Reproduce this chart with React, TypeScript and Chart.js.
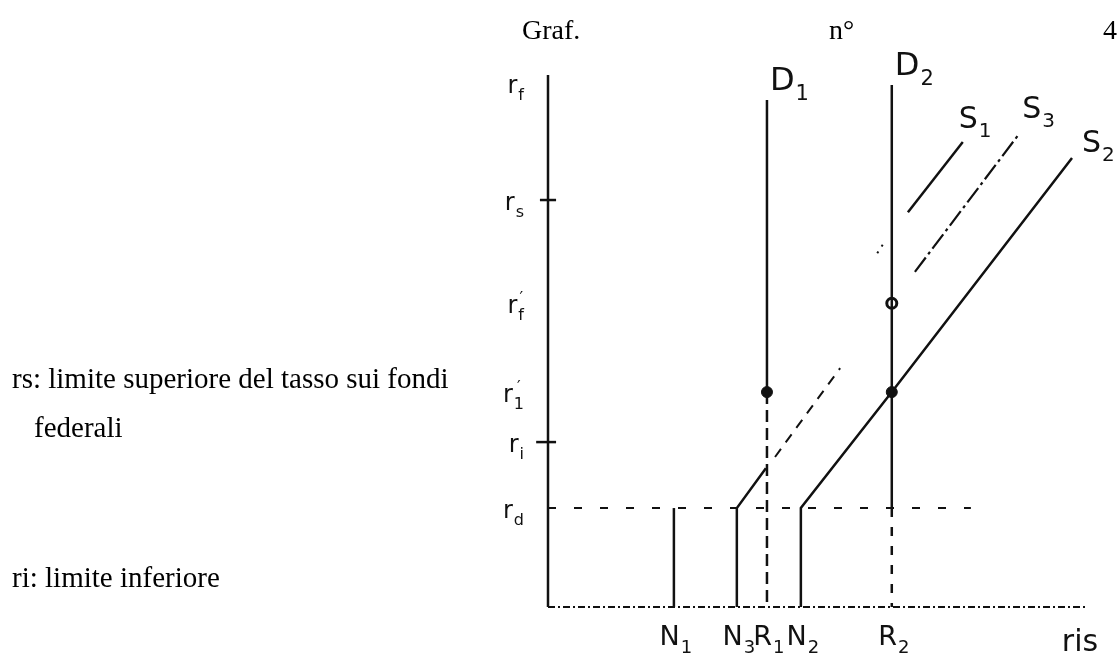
import React, { useEffect, useRef } from 'react';
import { Chart, registerables } from 'chart.js';

Chart.register(...registerables);

// ---------- data (chart units: reserves on x, federal funds rate on y) ----------
const X_MAX = 100;
const Y_MAX = 100;

// positions on the reserves axis
const N1 = 23.4;
const N3 = 35.1;
const R1 = 40.7;
const N2 = 47.0;
const R2 = 63.9;

// rate levels
const RD = 18.6; // discount rate
const RI = 31.0; // lower limit
const R1P = 40.4; // r1'
const RFP = 57.1; // rf'
const RS = 76.5; // upper limit

const D1_TOP = 95.3;
const D2_TOP = 98.1;
const RD_LINE_END = 78.6;

// supply curves (visible pieces)
const s1Vertical = [[N1, 0], [N1, RD]];
const s1Dotted = [[61.2, 66.5], [62.8, 69.0]];
const s1Upper = [[66.9, 74.2], [77.1, 87.4]];
const s3Lower = [[N3, 0], [N3, RD], [40.5, 26.1]];
const s3Dashed = [[42.2, 28.2], [54.3, 44.9]];
const s3Upper = [[68.2, 63.0], [87.4, 88.7]];
const s2Curve = [[N2, 0], [N2, RD], [R2, R1P], [97.4, 84.4]];

// equilibrium points
const filledPoints = [[R1, R1P], [R2, R1P]];
const openPoints = [[R2, RFP]];

// tick labels
const xTickValues = [N1, N3, R1, N2, R2];
const xTickMain = ['N', 'N', 'R', 'N', 'R'];
const xTickSub = ['1', '3', '1', '2', '2'];
const xAxisTitle = 'ris';

const yTickValues = [Y_MAX, RS, RFP, R1P, RI, RD];
const yTickSub = ['f', 's', 'f', '1', 'i', 'd'];
const yTickPrime = [false, false, true, true, false, false];

const demandNames = ['D', 'D'];
const demandSubs = ['1', '2'];
const supplySubs = ['1', '3', '2'];

const INK = '#111111';
const HAND_FONT = '"DejaVu Sans", sans-serif';

type P = number[];
const toXY = (pts: P[]) => pts.map(([x, y]) => ({ x, y }));

function seg(pts: P[], extra: any = {}) {
  return {
    data: toXY(pts),
    showLine: true,
    borderColor: INK,
    backgroundColor: INK,
    borderWidth: 2.5,
    pointRadius: 0,
    tension: 0,
    fill: false,
    clip: false,
    ...extra,
  };
}

function drawLabel(
  ctx: CanvasRenderingContext2D,
  px: number,
  py: number,
  main: string,
  sub: string,
  prime: boolean,
  size: number,
  align: 'left' | 'center' | 'right'
) {
  const subSize = Math.round(size * 0.66);
  ctx.font = `${size}px ${HAND_FONT}`;
  const wm = ctx.measureText(main).width;
  ctx.font = `${subSize}px ${HAND_FONT}`;
  const ws = sub ? ctx.measureText(sub).width : 0;
  const total = wm + ws + 1;
  const left = align === 'center' ? px - total / 2 : align === 'right' ? px - total : px;
  ctx.textAlign = 'left';
  ctx.textBaseline = 'alphabetic';
  ctx.font = `${size}px ${HAND_FONT}`;
  ctx.fillText(main, left, py);
  if (sub) {
    ctx.font = `${subSize}px ${HAND_FONT}`;
    ctx.fillText(sub, left + wm + 1, py + size * 0.3);
  }
  if (prime) {
    ctx.font = `${subSize}px ${HAND_FONT}`;
    ctx.fillText('\u2032', left + wm + ws * 0.4, py - size * 0.42);
  }
}

const handLabels = {
  id: 'handLabels',
  afterDatasetsDraw(chart: any) {
    const { ctx, scales } = chart;
    const xs = scales.x;
    const ys = scales.y;
    const axisX = xs.getPixelForValue(0);
    const axisY = ys.getPixelForValue(0);
    ctx.save();
    ctx.fillStyle = INK;

    // rate axis labels
    yTickValues.forEach((v, i) => {
      const py = ys.getPixelForValue(v) + (i === 0 ? 18 : 10);
      drawLabel(ctx, axisX - 24, py, 'r', yTickSub[i], yTickPrime[i], 24, 'right');
    });

    // reserves axis labels
    xTickValues.forEach((v, i) => {
      const px = xs.getPixelForValue(v);
      drawLabel(ctx, px + 2, axisY + 38, xTickMain[i], xTickSub[i], false, 27, 'center');
    });
    ctx.font = `30px ${HAND_FONT}`;
    ctx.textAlign = 'center';
    ctx.fillText(xAxisTitle, xs.getPixelForValue(X_MAX) - 6, axisY + 44);

    // demand labels
    const dX = [R1, R2];
    const dTop = [D1_TOP, D2_TOP];
    dX.forEach((v, i) => {
      drawLabel(ctx, xs.getPixelForValue(v) + 3, ys.getPixelForValue(dTop[i]) - 10, demandNames[i], demandSubs[i], false, 32, 'left');
    });

    // supply labels at the end of their upper pieces
    const ends = [s1Upper[1], s3Upper[1], s2Curve[s2Curve.length - 1]];
    const dx = [-4, 4, 10];
    const dy = [-14, -17, -6];
    ends.forEach((p, i) => {
      drawLabel(ctx, xs.getPixelForValue(p[0]) + dx[i], ys.getPixelForValue(p[1]) + dy[i], 'S', supplySubs[i], false, 30, 'left');
    });
    ctx.restore();
  },
};

export default function App() {
  const ref = useRef<HTMLCanvasElement | null>(null);

  useEffect(() => {
    if (!ref.current) return;
    const chart = new Chart(ref.current, {
      type: 'scatter',
      data: {
        datasets: [
          // axes
          seg([[0, 0], [0, Y_MAX]], { borderWidth: 2.5 }),
          seg([[0, 0], [X_MAX, 0]], { borderWidth: 2, borderDash: [7, 3, 2, 3] }),
          // ticks on rate axis
          seg([[-1.5, RS], [1.5, RS]]),
          seg([[-2.2, RI], [1.5, RI]]),
          // discount-rate line
          seg([[0, RD], [RD_LINE_END, RD]], { borderWidth: 2, borderDash: [8, 18] }),
          // demand D1
          seg([[R1, D1_TOP], [R1, R1P]]),
          seg([[R1, R1P], [R1, 0]], { borderDash: [12, 6] }),
          // demand D2
          seg([[R2, D2_TOP], [R2, RD]]),
          seg([[R2, RD], [R2, 0]], { borderDash: [9, 10] }),
          // supply S1
          seg(s1Vertical),
          seg(s1Dotted, { borderWidth: 2, borderDash: [2, 6] }),
          seg(s1Upper),
          // supply S3
          seg(s3Lower),
          seg(s3Dashed, { borderWidth: 2, borderDash: [10, 8] }),
          seg(s3Upper, { borderWidth: 2.2, borderDash: [18, 4, 3, 4] }),
          // supply S2
          seg(s2Curve),
          // equilibrium points
          {
            data: toXY(filledPoints),
            showLine: false,
            pointRadius: 5.5,
            pointBackgroundColor: INK,
            pointBorderColor: INK,
            pointBorderWidth: 1,
            clip: false,
          },
          {
            data: toXY(openPoints),
            showLine: false,
            pointRadius: 5,
            pointBackgroundColor: '#ffffff',
            pointBorderColor: INK,
            pointBorderWidth: 3,
            clip: false,
          },
        ],
      },
      options: {
        animation: false,
        responsive: true,
        maintainAspectRatio: false,
        events: [],
        layout: { padding: { left: 548, right: 32, top: 75, bottom: 57 } },
        plugins: {
          legend: { display: false },
          tooltip: { enabled: false },
          title: { display: false },
        },
        scales: {
          x: { type: 'linear', min: 0, max: X_MAX, display: false },
          y: { type: 'linear', min: 0, max: Y_MAX, display: false },
        },
      },
      plugins: [handLabels],
    } as any);
    return () => chart.destroy();
  }, []);

  const serif = '"Liberation Serif", "Times New Roman", serif';
  const textLine: React.CSSProperties = {
    position: 'absolute',
    fontFamily: serif,
    fontSize: 29,
    lineHeight: '29px',
    whiteSpace: 'nowrap',
    color: '#000',
  };

  return (
    <div style={{ position: 'absolute', left: 0, top: 0, width: 1118, height: 664, background: '#fff', overflow: 'hidden' }}>
      <div style={{ position: 'absolute', left: 0, top: 0, width: 1118, height: 664 }}>
        <canvas ref={ref} />
      </div>
      <div
        style={{
          position: 'absolute',
          left: 522,
          top: 16,
          width: 595,
          display: 'flex',
          justifyContent: 'space-between',
          fontFamily: serif,
          fontSize: 28,
          lineHeight: '28px',
          color: '#000',
        }}
      >
        <span>Graf.</span>
        <span>n°</span>
        <span>4</span>
      </div>
      <div style={{ ...textLine, left: 12, top: 364 }}>rs: limite superiore del tasso sui fondi</div>
      <div style={{ ...textLine, left: 34, top: 413 }}>federali</div>
      <div style={{ ...textLine, left: 12, top: 563 }}>ri: limite inferiore</div>
    </div>
  );
}
